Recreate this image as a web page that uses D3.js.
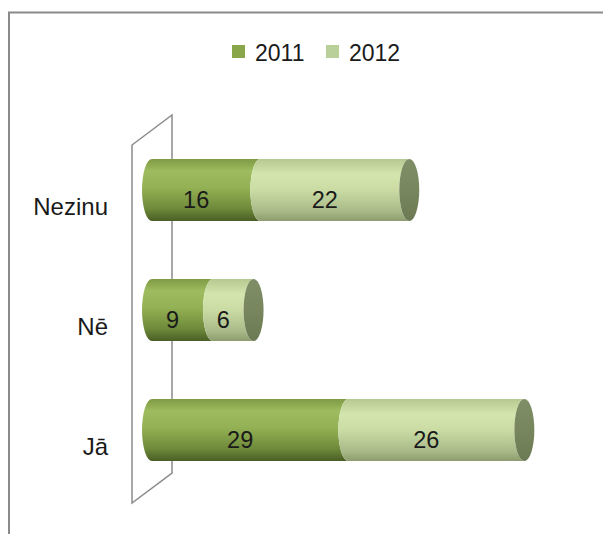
<!DOCTYPE html>
<html><head><meta charset="utf-8">
<script src="https://cdn.jsdelivr.net/npm/d3@7"></script>
<style>body{margin:0;background:#fff}svg{display:block}</style>
</head><body>
<script>
const categories = ["Nezinu", "Nē", "Jā"];
const seriesNames = ["2011", "2012"];
const values2011 = [16, 9, 29];
const values2012 = [22, 6, 26];

const W = 603, H = 534;
const FONT = "'Liberation Sans', Arial, sans-serif";
const svg = d3.select("body").append("svg").attr("width", W).attr("height", H);
const defs = svg.append("defs");

function grad(id, stops) {
  const g = defs.append("linearGradient").attr("id", id).attr("x1", 0).attr("y1", 0).attr("x2", 0).attr("y2", 1);
  stops.forEach(s => g.append("stop").attr("offset", s[0]).attr("stop-color", s[1]));
}
grad("g2011", [[0, "#7f9b46"], [0.2, "#9ebc5f"], [0.45, "#94b255"], [0.8, "#6f8a3a"], [1, "#4a5e25"]]);
grad("g2012", [[0, "#b6c990"], [0.25, "#d4e6ae"], [0.5, "#cadca4"], [0.85, "#a8b988"], [1, "#8c9c6e"]]);
grad("gcap", [[0, "#7f8e66"], [0.5, "#77865d"], [1, "#6c7a54"]]);

// outer border
svg.append("path").attr("d", `M9,${H + 5} L9,12.5 L${W + 5},12.5`)
  .attr("fill", "none").attr("stroke", "#8a8a8a").attr("stroke-width", 2);

const x = d3.scaleLinear().domain([0, 60]).range([142, 142 + 60 * 6.77]);
const y = d3.scaleBand().domain(categories).range([130, 490]).paddingInner(0.483).paddingOuter(0.2415);

// back wall
svg.append("path").attr("d", "M132,145 L172,115 L172,473 L132,503 Z")
  .attr("fill", "#fff").attr("stroke", "#8c8c8c").attr("stroke-width", 1.5);

const rx = 10;
const colors = ["url(#g2011)", "url(#g2012)"];
const legendColors = ["#8aa64a", "#bad09a"];

categories.forEach((c, i) => {
  const vals = [values2011[i], values2012[i]];
  const top = y(c), bh = y.bandwidth(), bot = top + bh, cy = top + bh / 2, ry = bh / 2;
  let acc = 0;
  vals.forEach((v, s) => {
    const xa = x(acc) + rx, xb = x(acc + v) + rx;
    const d = `M${xa},${top} L${xb},${top} A${rx},${ry} 0 0 0 ${xb},${bot} L${xa},${bot} A${rx},${ry} 0 0 1 ${xa},${top} Z`;
    svg.append("path").attr("d", d).attr("fill", colors[s]);
    svg.append("text").attr("x", (x(acc) + x(acc + v)) / 2).attr("y", cy + 18)
      .attr("text-anchor", "middle").attr("font-family", FONT).attr("font-size", 23.5).attr("fill", "#1a1a1a")
      .text(v);
    acc += v;
  });
  svg.append("ellipse").attr("cx", x(acc) + rx).attr("cy", cy).attr("rx", rx).attr("ry", ry)
    .attr("fill", "url(#gcap)");
  svg.append("text").attr("x", 108).attr("y", cy + 25).attr("text-anchor", "end")
    .attr("font-family", FONT).attr("font-size", 24).attr("fill", "#1a1a1a").text(c);
});

// legend
const legendX = [232, 326];
seriesNames.forEach((s, i) => {
  svg.append("rect").attr("x", legendX[i]).attr("y", 45).attr("width", 13).attr("height", 13).attr("fill", legendColors[i]);
  svg.append("text").attr("x", legendX[i] + 23).attr("y", 61).attr("font-family", FONT).attr("font-size", 23)
    .attr("fill", "#1a1a1a").text(s);
});
</script>
</body></html>
